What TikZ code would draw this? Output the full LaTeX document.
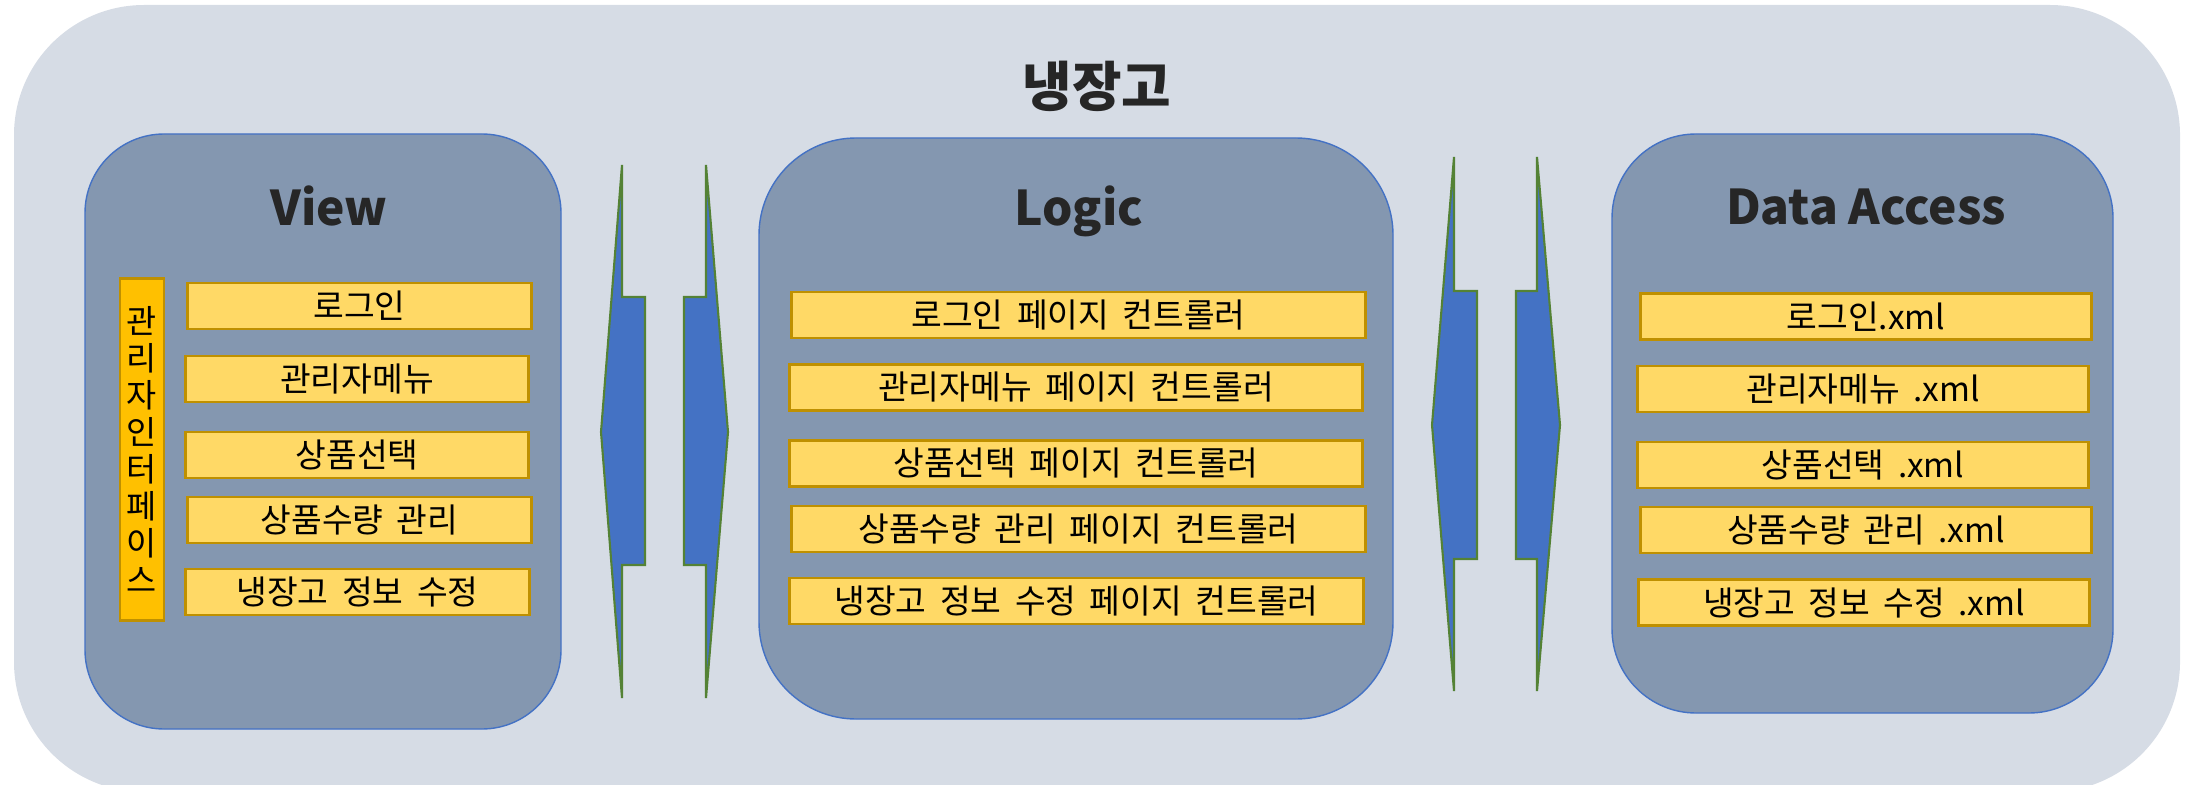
\documentclass[tikz,border=0pt]{standalone}
\usepackage{fontspec}
\setmainfont{Noto Sans CJK KR}
\newfontfamily\boxfont[WordSpace=1.8]{Noto Sans CJK KR}
\definecolor{outerfill}{HTML}{D6DCE5}
\definecolor{panelfill}{HTML}{8497B0}
\definecolor{panelline}{HTML}{4472C4}
\definecolor{boxfill}{HTML}{FFD966}
\definecolor{boxline}{HTML}{BF9000}
\definecolor{sidefill}{HTML}{FFC000}
\definecolor{arrowfill}{HTML}{4472C4}
\definecolor{arrowline}{HTML}{548235}
\definecolor{titlegray}{HTML}{262626}
\begin{document}
\begin{tikzpicture}[x=0.01cm,y=-0.01cm,
    layerbox/.style={fill=panelfill,draw=panelline,line width=0.4pt},
    pagebox/.style={draw=boxline,fill=boxfill,line width=0.8pt,minimum height=0.46cm,
      inner sep=0pt,font=\boxfont\fontsize{9.5}{11}\selectfont},
    flowarrow/.style={fill=arrowfill,draw=arrowline,line width=0.6pt,line join=miter},
    layertitle/.style={font=\bfseries\fontsize{13.6}{16}\selectfont,text=titlegray,inner sep=0pt}]
    \useasboundingbox (0,0) rectangle (2188,785);
    % Fundo externo
    \begin{scope}
      \clip (0,0) rectangle (2188,785);
      \fill[outerfill,rounded corners=1.3cm] (14,5) rectangle (2180,792);
    \end{scope}
    \node[font=\bfseries\fontsize{15.3}{18}\selectfont,text=titlegray,inner sep=0pt] (fridge) at (1097,86) {냉장고};
    % Blocos das camadas
    \draw[layerbox,rounded corners=0.79cm] (85,134) rectangle (561,729);
    \draw[layerbox,rounded corners=0.97cm] (759,138) rectangle (1393,719);
    \draw[layerbox,rounded corners=0.84cm] (1612,134) rectangle (2113,713);
    \node[layertitle] (view)  at (329,206)  {View};
    \node[layertitle] (logic) at (1079,211) {Logic};
    \node[layertitle] (data)  at (1866,207) {Data Access};
    % Setas entre as camadas
    \draw[flowarrow] (601,432) -- (622,165) -- (622,297) -- (645,297) -- (645,565) -- (622,565) -- (622,698) -- cycle;
    \draw[flowarrow] (728,432) -- (706,165) -- (706,297) -- (684,297) -- (684,565) -- (706,565) -- (706,698) -- cycle;
    \draw[flowarrow] (1432,425) -- (1454,157) -- (1454,291) -- (1477,291) -- (1477,559) -- (1454,559) -- (1454,691) -- cycle;
    \draw[flowarrow] (1560,425) -- (1537,157) -- (1537,291) -- (1516,291) -- (1516,559) -- (1537,559) -- (1537,691) -- cycle;
    % View
    \node[pagebox,fill=sidefill,minimum width=0.44cm,minimum height=3.41cm,align=center,
      font=\boxfont\fontsize{9.3}{10.5}\selectfont] (admin) at (142,449.5) {관\\리\\자\\인\\터\\페\\이\\스};
    \node[pagebox,minimum width=3.43cm] (vlogin) at (359.5,306) {로그인};
    \node[pagebox,minimum width=3.42cm] (vmenu)  at (357,379)   {관리자메뉴};
    \node[pagebox,minimum width=3.42cm] (vpick)  at (357,455)   {상품선택};
    \node[pagebox,minimum width=3.43cm] (vqty)   at (359.5,520) {상품수량 관리};
    \node[pagebox,minimum width=3.43cm] (vinfo)  at (357.5,592) {냉장고 정보 수정};
    % Logic
    \node[pagebox,minimum width=5.73cm] (llogin) at (1078.5,315)   {로그인 페이지 컨트롤러};
    \node[pagebox,minimum width=5.73cm] (lmenu)  at (1076,387.5)   {관리자메뉴 페이지 컨트롤러};
    \node[pagebox,minimum width=5.73cm] (lpick)  at (1076,463.5)   {상품선택 페이지 컨트롤러};
    \node[pagebox,minimum width=5.73cm] (lqty)   at (1078.5,529)   {상품수량 관리 페이지 컨트롤러};
    \node[pagebox,minimum width=5.73cm] (linfo)  at (1076.5,601)   {냉장고 정보 수정 페이지 컨트롤러};
    % Data Access
    \node[pagebox,minimum width=4.50cm] (dlogin) at (1866,316.5) {로그인.xml};
    \node[pagebox,minimum width=4.50cm] (dmenu)  at (1863,389)   {관리자메뉴 .xml};
    \node[pagebox,minimum width=4.50cm] (dpick)  at (1863,465)   {상품선택 .xml};
    \node[pagebox,minimum width=4.50cm] (dqty)   at (1866,530)   {상품수량 관리 .xml};
    \node[pagebox,minimum width=4.50cm] (dinfo)  at (1864,602.5) {냉장고 정보 수정 .xml};
\end{tikzpicture}
\end{document}
